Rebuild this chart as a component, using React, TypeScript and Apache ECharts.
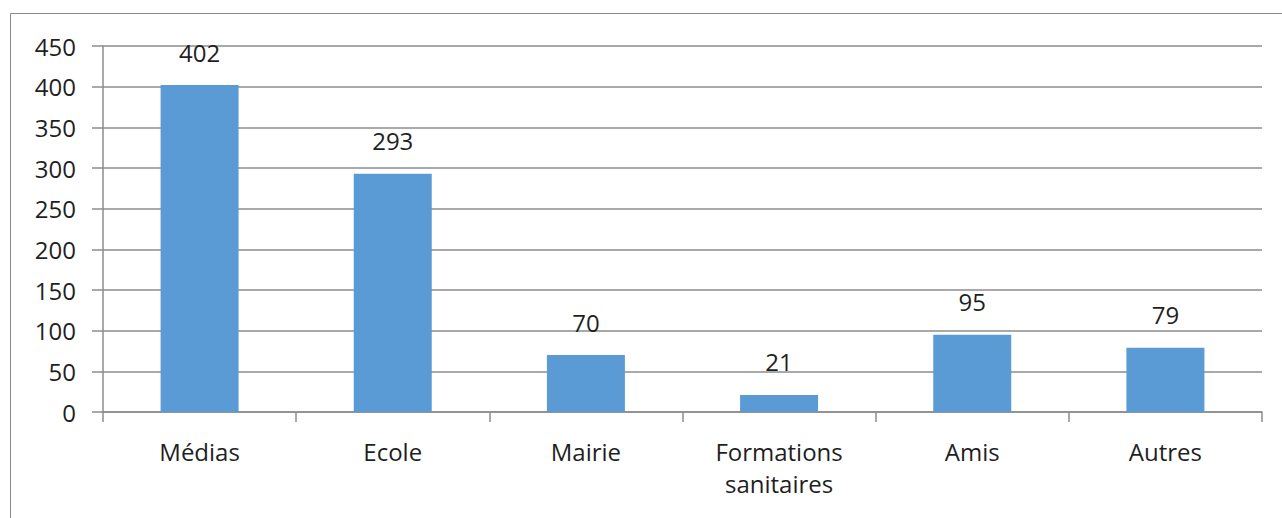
import React, { useEffect, useRef } from "react";
import * as echarts from "echarts";

const categories = ["Médias", "Ecole", "Mairie", "Formations\nsanitaires", "Amis", "Autres"];
const values = [402, 293, 70, 21, 95, 79];
const yMin = 0;
const yMax = 450;
const yInterval = 50;

export default function App() {
  const ref = useRef<HTMLDivElement>(null);
  useEffect(() => {
    if (!ref.current) return;
    const chart = echarts.init(ref.current, null, { renderer: "svg" });
    const font = "'Open Sans', 'Noto Sans', sans-serif";
    chart.setOption({
      animation: false,
      backgroundColor: "#ffffff",
      graphic: [
        {
          type: "rect",
          shape: { x: 10.5, y: 13.5, width: 1300, height: 600 },
          style: { fill: "none", stroke: "#8a8a8a", lineWidth: 1 },
          silent: true,
        },
      ],
      grid: { left: 103, top: 46, right: 20, bottom: 106, containLabel: false },
      xAxis: {
        type: "category",
        data: categories,
        boundaryGap: true,
        axisLine: { show: true, lineStyle: { color: "#8c8c8c", width: 1.5 } },
        axisTick: { show: true, length: 10, alignWithLabel: false, lineStyle: { color: "#8c8c8c", width: 1.5 } },
        axisLabel: {
          interval: 0,
          margin: 23,
          color: "#1f1f1f",
          fontSize: 24,
          fontFamily: font,
          lineHeight: 32,
        },
        splitLine: { show: false },
      },
      yAxis: {
        type: "value",
        min: yMin,
        max: yMax,
        interval: yInterval,
        axisLine: { show: true, lineStyle: { color: "#8c8c8c", width: 1.5 } },
        axisTick: { show: true, length: 11, lineStyle: { color: "#8c8c8c", width: 1.5 } },
        axisLabel: { margin: 27, color: "#1f1f1f", fontSize: 24, fontFamily: font },
        splitLine: { show: true, lineStyle: { color: "#8c8c8c", width: 1.5 } },
      },
      series: [
        {
          type: "bar",
          data: values,
          barWidth: 78,
          itemStyle: { color: "#5b9bd5" },
          label: {
            show: true,
            position: "top",
            distance: 21,
            color: "#1f1f1f",
            fontSize: 24,
            fontFamily: font,
          },
        },
      ],
    });
    return () => chart.dispose();
  }, []);
  return (
    <div
      ref={ref}
      style={{ position: "fixed", left: 0, top: 0, width: 1282, height: 518 }}
    />
  );
}
